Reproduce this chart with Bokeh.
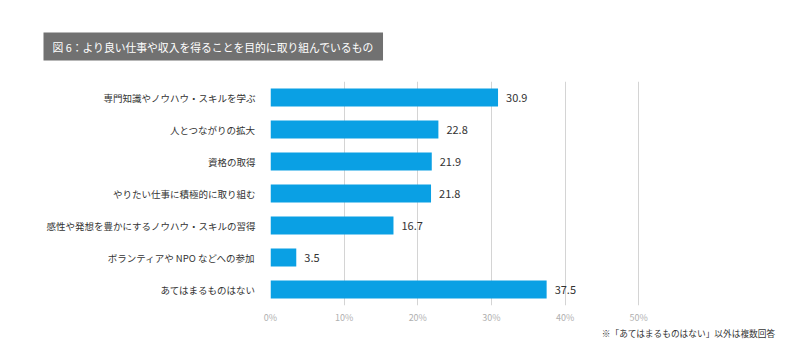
from bokeh.plotting import figure
from bokeh.models import ColumnDataSource, FactorRange, Range1d, FixedTicker, PrintfTickFormatter, Title
from bokeh.core.properties import value
from bokeh.embed import file_html
from bokeh.resources import INLINE

title_text = "図 6：より良い仕事や収入を得ることを目的に取り組んでいるもの"
note_text = "※「あてはまるものはない」以外は複数回答"
categories = [
    "専門知識やノウハウ・スキルを学ぶ",
    "人とつながりの拡大",
    "資格の取得",
    "やりたい仕事に積極的に取り組む",
    "感性や発想を豊かにするノウハウ・スキルの習得",
    "ボランティアや NPO などへの参加",
    "あてはまるものはない",
]
values = [30.9, 22.8, 21.9, 21.8, 16.7, 3.5, 37.5]
x_ticks = [0, 10, 20, 30, 40, 50]

FONT = "Noto Sans CJK JP"

src = ColumnDataSource(dict(cat=categories, val=values, lab=[f"{v:.1f}" for v in values]))

p = figure(
    width=792, height=352,
    y_range=FactorRange(factors=list(reversed(categories)), range_padding=0),
    x_range=Range1d(0, 55),
    output_backend="svg", toolbar_location=None,
    min_border_left=270, min_border_right=117, min_border_top=81, min_border_bottom=47,
)
p.outline_line_color = None
p.background_fill_color = "white"
p.border_fill_color = "white"

p.hbar(y="cat", right="val", left=0, height=0.56, source=src,
       fill_color="#0aa0e4", line_color=None)
p.text(x="val", y="cat", text="lab", source=src, x_offset=8,
       text_align="left", text_baseline="middle",
       text_font=value(FONT), text_font_size="11px", text_color="#333333")

p.ygrid.grid_line_color = None
p.xgrid.grid_line_color = "#d4d4d4"
p.xgrid.grid_line_width = 1

xa = p.xaxis[0]
xa.ticker = FixedTicker(ticks=x_ticks)
xa.formatter = PrintfTickFormatter(format="%d%%")
xa.axis_line_color = None
xa.major_tick_line_color = None
xa.minor_tick_line_color = None
xa.major_tick_out = 0
xa.major_tick_in = 0
xa.major_label_text_font = FONT
xa.major_label_text_font_size = "9px"
xa.major_label_text_color = "#b0b0b0"
xa.major_label_standoff = 5

ya = p.yaxis[0]
ya.axis_line_color = None
ya.major_tick_line_color = None
ya.minor_tick_line_color = None
ya.major_tick_out = 0
ya.major_tick_in = 0
ya.major_label_text_font = FONT
ya.major_label_text_font_size = "9.5px"
ya.major_label_text_color = "#333333"
ya.major_label_standoff = 15

p.add_layout(Title(text=title_text, text_font=FONT, text_font_size="10.8px",
                   text_font_style="normal", text_color="white",
                   background_fill_color="#717171",
                   align="left", standoff=42, offset=-227, padding=(9, 6)), "above")
p.add_layout(Title(text=note_text, text_font=FONT, text_font_size="8.7px",
                   text_color="#333333", text_font_style="normal", align="right",
                   vertical_align="top", offset=-100, standoff=0), "below")

open("out.html", "w").write(file_html(p, INLINE))
